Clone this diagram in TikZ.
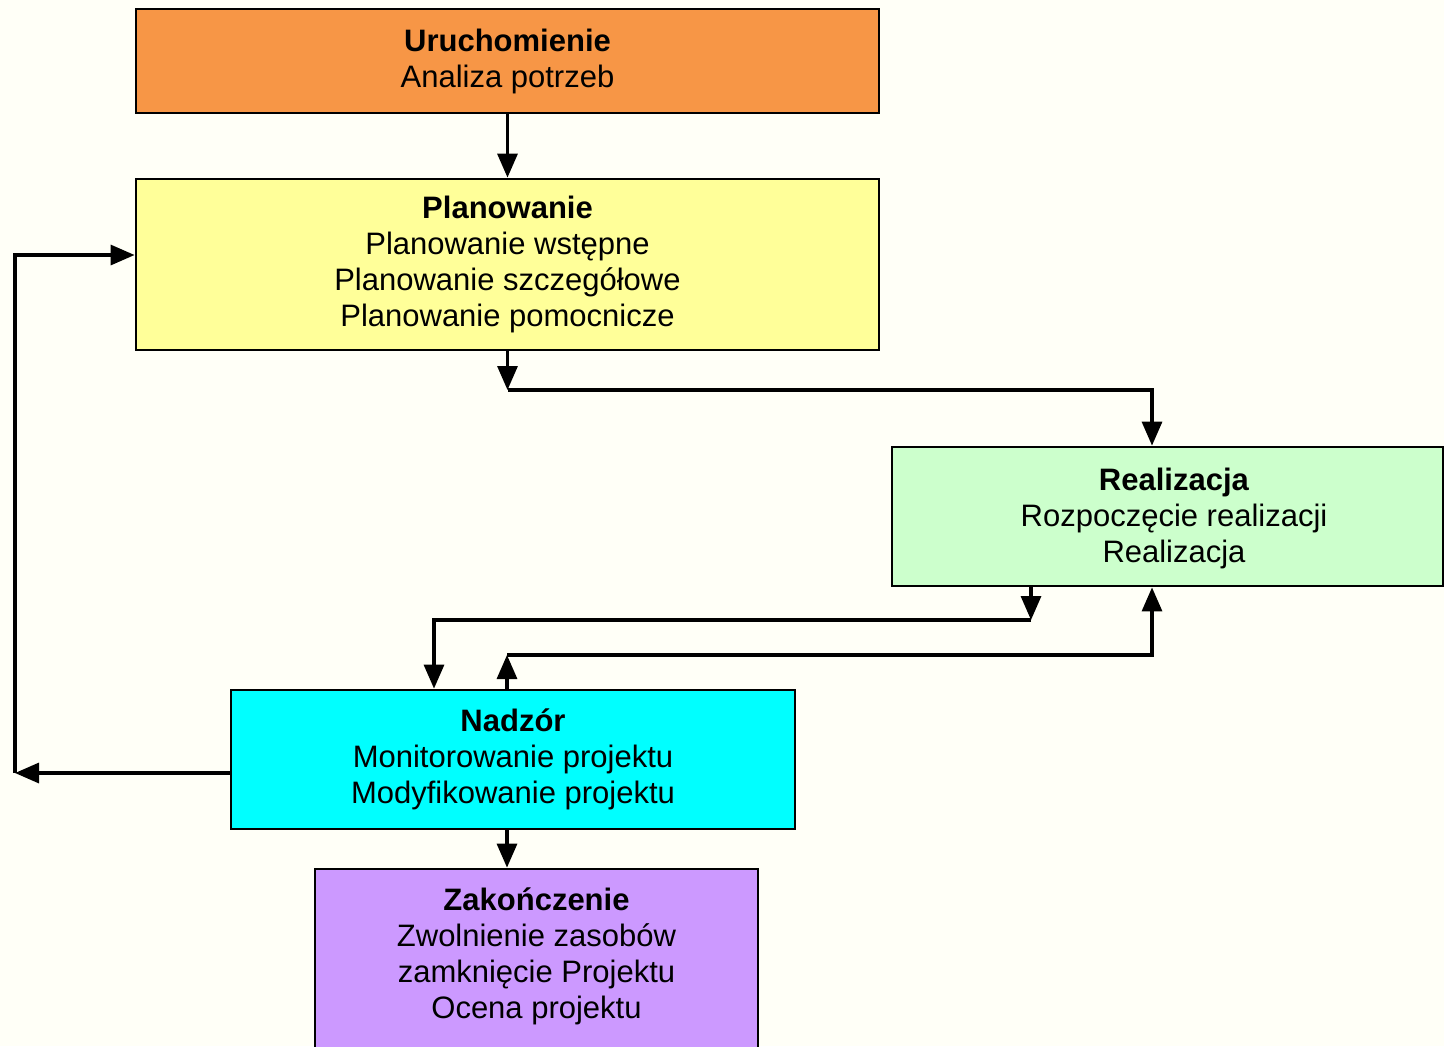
\documentclass[tikz,border=0pt]{standalone}
\usepackage{fontspec}
\setmainfont{Liberation Sans}
\usepackage{xcolor}
\usetikzlibrary{arrows.meta}

\definecolor{bgcream}{HTML}{FFFFF7}
\definecolor{startorange}{HTML}{F79646}
\definecolor{planyellow}{HTML}{FFFF99}
\definecolor{realgreen}{HTML}{CCFFCC}
\definecolor{nadcyan}{HTML}{00FFFF}
\definecolor{endviolet}{HTML}{CC99FF}

\tikzset{
  phasebox/.style={draw, line width=1.4pt, align=center, inner sep=0pt,
    font=\fontsize{15.5pt}{18pt}\selectfont},
  phasetext/.style={align=center, inner sep=0pt,
    font=\fontsize{15.5pt}{18pt}\selectfont},
  arr/.style={line width=1.6pt, -{Triangle[length=12pt,width=10pt]}},
}

\begin{document}
\begin{tikzpicture}[x=0.5pt,y=0.5pt,yscale=-1,xscale=1]

\fill[bgcream] (0,0) rectangle (1444,1046);
\useasboundingbox (0,0) rectangle (1444,1046);

% phases
\node[phasebox, fill=startorange, minimum width=371.5pt, minimum height=52pt] (uruch) at (507.5,61)
  {\textbf{Uruchomienie}\\Analiza potrzeb};

\node[phasebox, fill=planyellow, minimum width=371.5pt, minimum height=85.5pt] (plan) at (507.5,264.5)
  {\textbf{Planowanie}\\Planowanie wstępne\\Planowanie szczegółowe\\Planowanie pomocnicze};

\node[phasebox, fill=realgreen, minimum width=275.5pt, minimum height=69.5pt] (real) at (1167.5,516.5) {};
\node[phasetext] (realtxt) at (1174,518)
  {\textbf{Realizacja}\\Rozpoczęcie realizacji\\Realizacja};

\node[phasebox, fill=nadcyan, minimum width=282pt, minimum height=69.5pt] (nad) at (513,759.5)
  {\textbf{Nadzór}\\Monitorowanie projektu\\Modyfikowanie projektu};

\node[phasebox, fill=endviolet, minimum width=221.5pt, minimum height=100pt] (zak) at (536.5,969) {};
\node[phasetext] (zaktxt) at (536.5,956)
  {\textbf{Zakończenie}\\Zwolnienie zasobów\\zamknięcie Projektu\\Ocena projektu};

% bends of the connectors
\coordinate (p1) at (507.5,390);
\coordinate (p2) at (1152,390);
\coordinate (r1) at (1031,620);
\coordinate (r2) at (434,620);
\coordinate (n1) at (507,655);
\coordinate (n2) at (1152,655);
\coordinate (l1) at (15,773);
\coordinate (l2) at (15,255);

% connectors
\draw[arr] (uruch.south) -- (plan.north);

\draw[arr] (plan.south) -- (p1);
\draw[arr] (p1) -- (p2) -- (p2 |- real.north);

\draw[arr] (r1 |- real.south) -- (r1);
\draw[arr] (r1) -- (r2) -- (r2 |- nad.north);

\draw[arr] (n1 |- nad.north) -- (n1);
\draw[arr] (n1) -- (n2) -- (n2 |- real.south);

\draw[arr] (l1 -| nad.west) -- (l1);
\draw[arr] (l1) -- (l2) -- (l2 -| plan.west);

\draw[arr] (507,829) coordinate (n3) (n3 |- nad.south) -- (n3 |- zak.north);

\end{tikzpicture}
\end{document}
